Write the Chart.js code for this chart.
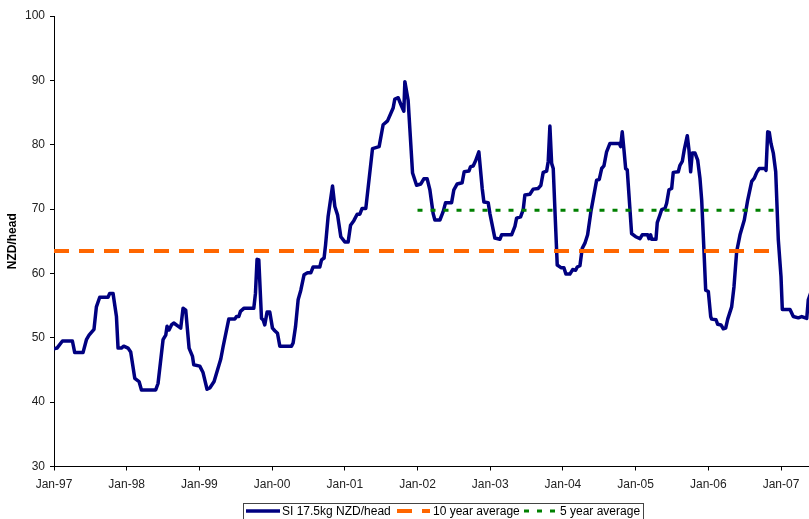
<!DOCTYPE html>
<html>
<head>
<meta charset="utf-8">
<script src="https://cdn.jsdelivr.net/npm/chart.js@4/dist/chart.umd.min.js"></script>
<style>
  html, body { margin: 0; padding: 0; background: #fff; }
  #wrap { position: relative; width: 809px; height: 519px; overflow: hidden; }
</style>
</head>
<body>
<div id="wrap"><canvas id="chart" width="809" height="519"></canvas></div>
<script>
// weekly price (decimal year -> NZD/head)
var dates = [
  1997.000,1997.041,1997.116,1997.253,1997.285,1997.399,1997.446,1997.482,1997.550,1997.583,
  1997.629,1997.743,1997.766,1997.812,1997.859,1997.881,1997.927,1997.959,1998.018,1998.055,
  1998.111,1998.170,1998.203,1998.399,1998.431,1998.500,1998.537,1998.555,1998.582,1998.616,
  1998.647,1998.706,1998.743,1998.775,1998.812,1998.858,1998.905,1998.922,1999.005,1999.050,
  1999.105,1999.143,1999.202,1999.294,1999.326,1999.404,1999.487,1999.510,1999.542,1999.565,
  1999.615,1999.748,1999.771,1999.793,1999.817,1999.854,1999.876,1999.899,1999.931,1999.968,
  2000.005,2000.037,2000.074,2000.106,2000.267,2000.289,2000.322,2000.358,2000.395,2000.440,
  2000.487,2000.532,2000.564,2000.656,2000.680,2000.715,2000.735,2000.770,2000.831,2000.863,
  2000.900,2000.945,2001.000,2001.046,2001.079,2001.124,2001.170,2001.207,2001.238,2001.289,
  2001.381,2001.472,2001.527,2001.588,2001.665,2001.688,2001.734,2001.780,2001.812,2001.826,
  2001.871,2001.932,2001.987,2002.046,2002.087,2002.133,2002.170,2002.215,2002.239,2002.308,
  2002.353,2002.386,2002.469,2002.500,2002.546,2002.614,2002.642,2002.707,2002.730,2002.766,
  2002.799,2002.844,2002.890,2002.913,2002.972,2002.996,2003.064,2003.133,2003.157,2003.294,
  2003.340,2003.363,2003.418,2003.454,2003.477,2003.546,2003.591,2003.660,2003.697,2003.729,
  2003.776,2003.798,2003.821,2003.845,2003.867,2003.890,2003.922,2003.973,2004.014,2004.041,
  2004.096,2004.134,2004.175,2004.197,2004.234,2004.266,2004.303,2004.340,2004.385,2004.464,
  2004.500,2004.533,2004.564,2004.601,2004.647,2004.775,2004.794,2004.816,2004.840,2004.863,
  2004.885,2004.945,2005.001,2005.060,2005.091,2005.166,2005.184,2005.207,2005.221,2005.280,
  2005.298,2005.335,2005.358,2005.404,2005.427,2005.459,2005.496,2005.518,2005.587,2005.610,
  2005.642,2005.669,2005.711,2005.734,2005.757,2005.779,2005.817,2005.854,2005.885,2005.909,
  2005.940,2005.964,2006.000,2006.033,2006.046,2006.106,2006.129,2006.174,2006.206,2006.239,
  2006.267,2006.321,2006.353,2006.390,2006.436,2006.495,2006.542,2006.597,2006.633,2006.666,
  2006.701,2006.780,2006.794,2006.817,2006.839,2006.862,2006.894,2006.927,2006.963,2007.000,
  2007.018,2007.124,2007.169,2007.238,2007.285,2007.354,2007.375,2007.413
]
var prices = [
  48.3,48.4,49.5,49.5,47.7,47.7,49.7,50.4,51.3,54.8,
  56.3,56.3,56.9,56.9,53.3,48.4,48.4,48.7,48.4,47.8,
  43.7,43.2,41.9,41.9,42.9,49.7,50.4,51.8,51.2,52.0,
  52.3,51.8,51.5,54.6,54.3,48.4,47.1,45.8,45.6,44.6,
  42.0,42.2,43.2,46.7,48.6,52.9,52.9,53.3,53.3,54.1,
  54.6,54.6,56.9,62.2,62.1,53.0,52.8,52.0,54.0,54.0,
  51.5,51.1,50.7,48.7,48.7,49.2,51.7,55.9,57.4,59.8,
  60.1,60.1,61.0,61.0,62.1,62.4,64.4,68.8,73.6,70.4,
  69.1,65.7,64.9,64.9,67.5,68.2,69.2,69.2,70.1,70.1,
  79.4,79.7,83.1,83.7,85.7,87.1,87.3,86.0,85.2,89.8,
  86.9,75.6,73.7,73.9,74.7,74.7,73.0,69.3,68.3,68.3,
  69.6,71.0,71.0,73.0,73.9,74.1,75.8,75.9,76.6,76.7,
  77.5,78.9,73.2,71.1,71.0,69.3,65.5,65.3,66.0,66.0,
  67.3,68.6,68.8,69.9,72.2,72.3,73.1,73.2,73.7,75.7,
  75.9,77.4,82.9,77.1,76.3,69.9,61.3,60.9,60.9,59.9,
  59.9,60.6,60.5,61.0,61.2,63.9,64.7,66.0,69.6,74.5,
  74.6,76.3,76.7,78.9,80.2,80.2,79.7,82.0,79.2,76.3,
  76.1,66.2,65.7,65.4,66.0,66.0,65.4,66.0,65.3,65.3,
  67.9,69.1,69.9,70.1,70.9,73.0,73.2,75.7,75.8,76.8,
  77.4,79.2,81.4,79.2,75.8,78.7,78.7,77.6,74.8,71.4,
  63.6,57.4,57.2,53.3,52.9,52.8,52.1,52.0,51.4,51.5,
  52.9,54.8,57.9,63.4,66.0,68.3,71.4,74.3,74.8,75.7,
  76.3,76.3,76.0,82.0,81.9,80.2,78.7,75.8,65.2,59.5,
  54.4,54.4,53.3,53.1,53.3,53.0,55.9,57.1
]

// averages: value and the span they are drawn over
var tenYearAvg = 63.5
var tenYearSpan = [1997.0, 2006.96]
var fiveYearAvg = 69.8
var fiveYearSpan = [2002.0, 2006.93]

var tickYears = [1997,1998,1999,2000,2001,2002,2003,2004,2005,2006,2007]
var tickLabels = ['Jan-97','Jan-98','Jan-99','Jan-00','Jan-01','Jan-02','Jan-03','Jan-04','Jan-05','Jan-06','Jan-07']
var seriesNames = ['SI 17.5kg NZD/head', '10 year average', '5 year average']

var yMin = 30, yMax = 100
var xMin = 1997, xMax = 2007.385

Chart.defaults.font.family = '"Liberation Sans", Arial, sans-serif'
Chart.defaults.font.size = 12
Chart.defaults.color = '#000'

// legend box drawn under the chart, like the spreadsheet one
var legendBox = {
  id: 'legendBox',
  afterDraw: function(chart) {
    var ctx = chart.ctx
    ctx.save()
    ctx.strokeStyle = '#444'
    ctx.lineWidth = 1
    ctx.strokeRect(243.5, 503.5, 400, 24)

    ctx.font = '12px "Liberation Sans", Arial, sans-serif'
    ctx.fillStyle = '#000'
    ctx.textBaseline = 'middle'

    var items = [
      { x0: 246, x1: 280, tx: 282 },
      { x0: 397, x1: 430, tx: 433 },
      { x0: 524, x1: 555, tx: 560 }
    ]
    items.forEach(function(it, i) {
      var ds = chart.data.datasets[i]
      ctx.beginPath()
      ctx.strokeStyle = ds.borderColor
      ctx.lineWidth = ds.borderWidth
      ctx.lineCap = 'butt'
      ctx.setLineDash(ds.borderDash || [])
      ctx.moveTo(it.x0, 511)
      ctx.lineTo(it.x1, 511)
      ctx.stroke()
      ctx.setLineDash([])
      ctx.fillText(ds.label, it.tx, 512)
    })
    ctx.restore()
  }
}

var priceData = dates.map(function(d, i) { return { x: d, y: prices[i] } })

var chart = new Chart(document.getElementById('chart'), {
  type: 'line',
  data: {
    datasets: [
      {
        label: seriesNames[0],
        data: priceData,
        borderColor: '#000080',
        borderWidth: 3.5,
        borderJoinStyle: 'round',
        borderCapStyle: 'round',
        pointRadius: 0,
        tension: 0,
        order: 3
      }, {
        label: seriesNames[1],
        data: [{ x: tenYearSpan[0], y: tenYearAvg }, { x: tenYearSpan[1], y: tenYearAvg }],
        borderColor: '#FF6600',
        borderWidth: 4,
        borderDash: [15, 10],
        borderCapStyle: 'butt',
        pointRadius: 0,
        order: 1
      }, {
        label: seriesNames[2],
        data: [{ x: fiveYearSpan[0], y: fiveYearAvg }, { x: fiveYearSpan[1], y: fiveYearAvg }],
        borderColor: '#008000',
        borderWidth: 3,
        borderDash: [5, 8],
        borderCapStyle: 'butt',
        pointRadius: 0,
        order: 2
      }
    ]
  },
  options: {
    responsive: false,
    animation: false,
    devicePixelRatio: 1,
    layout: { padding: { top: 16, left: 0, right: 0, bottom: 0 } },
    plugins: {
      legend: { display: false },
      tooltip: { enabled: false }
    },
    scales: {
      x: {
        type: 'linear',
        min: xMin,
        max: xMax,
        afterBuildTicks: function(scale) {
          scale.ticks = tickYears.map(function(v) { return { value: v } })
        },
        afterFit: function(scale) { scale.height = 52.5 },
        ticks: {
          autoSkip: false,
          maxRotation: 0,
          padding: 7,
          color: '#222',
          callback: function(v) {
            var i = tickYears.indexOf(v)
            return i >= 0 ? tickLabels[i] : ''
          }
        },
        grid: { drawOnChartArea: false, tickLength: 4, color: '#000' },
        border: { color: '#000', width: 1 }
      },
      y: {
        min: yMin,
        max: yMax,
        afterFit: function(scale) { scale.width = 54 },
        ticks: { stepSize: 10, padding: 5, color: '#222' },
        grid: { drawOnChartArea: false, tickLength: 4, color: '#000' },
        border: { color: '#000', width: 1 },
        title: {
          display: true,
          text: 'NZD/head',
          font: { weight: 'bold', size: 12 },
          padding: { top: 5, bottom: 0 }
        }
      }
    }
  },
  plugins: [legendBox]
})
</script>
</body>
</html>
